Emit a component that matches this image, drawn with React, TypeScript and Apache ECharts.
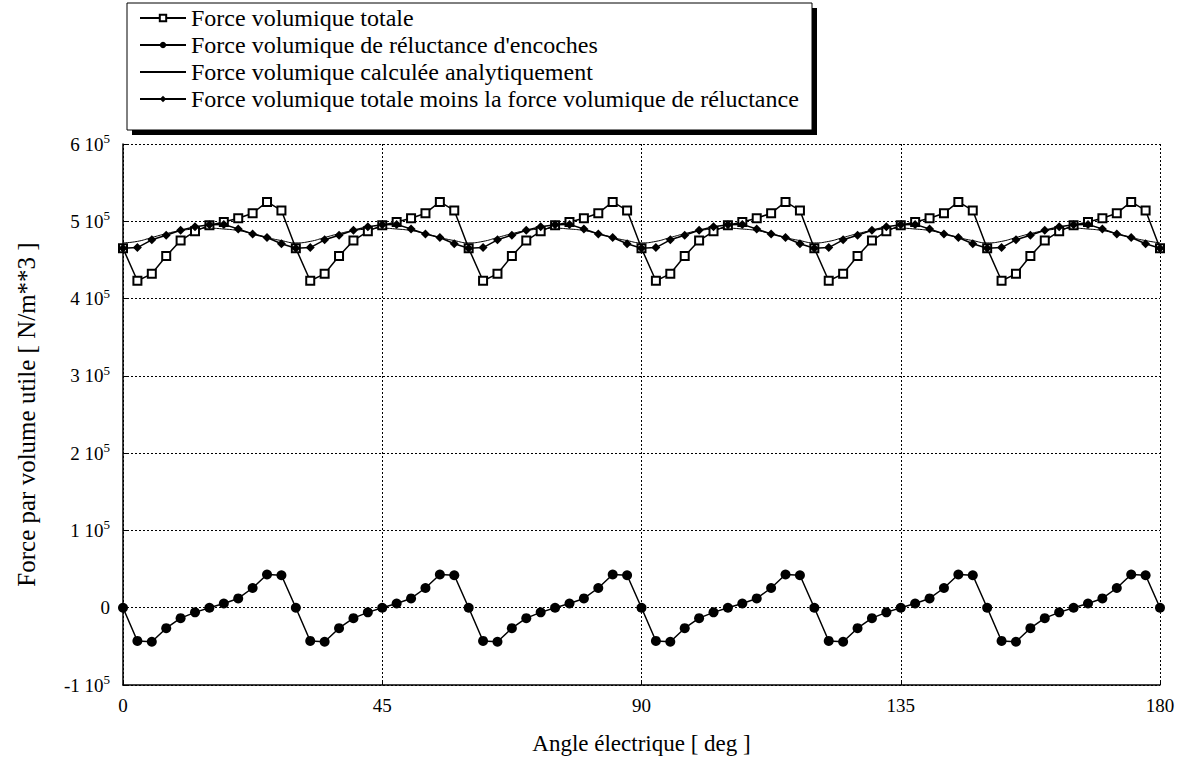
import React, { useEffect, useRef } from "react";
import * as echarts from "echarts";

// Electrical angle (deg)
const angles: number[] = [
  0, 2.5, 5, 7.5, 10, 12.5, 15, 17.5, 20, 22.5, 25, 27.5,
  30, 32.5, 35, 37.5, 40, 42.5, 45, 47.5, 50, 52.5, 55, 57.5,
  60, 62.5, 65, 67.5, 70, 72.5, 75, 77.5, 80, 82.5, 85, 87.5,
  90, 92.5, 95, 97.5, 100, 102.5, 105, 107.5, 110, 112.5, 115, 117.5,
  120, 122.5, 125, 127.5, 130, 132.5, 135, 137.5, 140, 142.5, 145, 147.5,
  150, 152.5, 155, 157.5, 160, 162.5, 165, 167.5, 170, 172.5, 175, 177.5,
  180,
];

// values in 10^3 N/m^3
const forceTotale: number[] = [
  465, 423, 432, 455, 475, 487, 495, 499, 504, 510.5, 525, 514,
  465, 423, 432, 455, 475, 487, 495, 499, 504, 510.5, 525, 514,
  465, 423, 432, 455, 475, 487, 495, 499, 504, 510.5, 525, 514,
  465, 423, 432, 455, 475, 487, 495, 499, 504, 510.5, 525, 514,
  465, 423, 432, 455, 475, 487, 495, 499, 504, 510.5, 525, 514,
  465, 423, 432, 455, 475, 487, 495, 499, 504, 510.5, 525, 514,
  465,
];

const forceReluctance: number[] = [
  0, -43, -44, -26.5, -13.5, -6, 0, 5.5, 12, 25.5, 43, 42,
  0, -43, -44, -26.5, -13.5, -6, 0, 5.5, 12, 25.5, 43, 42,
  0, -43, -44, -26.5, -13.5, -6, 0, 5.5, 12, 25.5, 43, 42,
  0, -43, -44, -26.5, -13.5, -6, 0, 5.5, 12, 25.5, 43, 42,
  0, -43, -44, -26.5, -13.5, -6, 0, 5.5, 12, 25.5, 43, 42,
  0, -43, -44, -26.5, -13.5, -6, 0, 5.5, 12, 25.5, 43, 42,
  0,
];

const forceAnalytique: number[] = [
  472, 474, 479, 484, 488, 490, 491, 490, 488, 484, 479, 475,
  472, 474, 479, 484, 488, 490, 491, 490, 488, 484, 479, 475,
  472, 474, 479, 484, 488, 490, 491, 490, 488, 484, 479, 475,
  472, 474, 479, 484, 488, 490, 491, 490, 488, 484, 479, 475,
  472, 474, 479, 484, 488, 490, 491, 490, 488, 484, 479, 475,
  472, 474, 479, 484, 488, 490, 491, 490, 488, 484, 479, 475,
  472,
];

const forceMoins: number[] = [
  465, 466, 476, 482, 488.5, 493, 495.5, 496, 490, 483.5, 479, 471,
  465, 466, 476, 482, 488.5, 493, 495.5, 496, 490, 483.5, 479, 471,
  465, 466, 476, 482, 488.5, 493, 495.5, 496, 490, 483.5, 479, 471,
  465, 466, 476, 482, 488.5, 493, 495.5, 496, 490, 483.5, 479, 471,
  465, 466, 476, 482, 488.5, 493, 495.5, 496, 490, 483.5, 479, 471,
  465, 466, 476, 482, 488.5, 493, 495.5, 496, 490, 483.5, 479, 471,
  465,
];

const seriesNames: string[] = [
  "Force volumique totale",
  "Force volumique de réluctance d'encoches",
  "Force volumique calculée analytiquement",
  "Force volumique totale moins la force volumique de réluctance",
];

const xTicks = { min: 0, max: 180, interval: 45 };
const yTicks = { min: -100, max: 600, interval: 100 };

const FONT = "'Liberation Serif', 'Times New Roman', serif";

export default function App() {
  const ref = useRef<HTMLDivElement>(null);
  useEffect(() => {
    if (!ref.current) return;
    const chart = echarts.init(ref.current, undefined, { renderer: "svg" });
    const pair = (vals: number[]) => angles.map((a, i) => [a, vals[i]]);
    const dotted = { color: "#000", width: 1, type: [2, 2] as number[] };
    chart.setOption({
      animation: false,
      backgroundColor: "#fff",
      textStyle: { fontFamily: FONT, color: "#000" },
      graphic: [
        { type: "rect", shape: { x: 132, y: 8, width: 685, height: 127 }, style: { fill: "#000" }, z: 0 },
        { type: "rect", shape: { x: 127, y: 3, width: 685, height: 127 }, style: { fill: "#fff", stroke: "#000", lineWidth: 1 }, z: 1 },
      ],
      legend: {
        orient: "vertical",
        left: 129,
        top: 3,
        padding: [3, 10, 20, 10],
        itemGap: 3,
        itemWidth: 46,
        itemHeight: 8,
        z: 10,
        data: [
          seriesNames[0],
          seriesNames[1],
          { name: seriesNames[2], itemStyle: { opacity: 0 } },
          seriesNames[3],
        ],
        textStyle: { fontFamily: FONT, fontSize: 24, color: "#000" },
      },
      grid: { left: 123, right: 22, top: 144, bottom: 74 },
      xAxis: {
        type: "value",
        ...xTicks,
        name: "Angle électrique [ deg ]",
        nameLocation: "middle",
        nameGap: 47,
        nameTextStyle: { fontFamily: FONT, fontSize: 23, color: "#000" },
        axisLine: { show: true, onZero: false, lineStyle: { color: "#000", width: 1.5 } },
        axisTick: { show: true, inside: true, length: 5, lineStyle: { color: "#000" } },
        axisLabel: { fontFamily: FONT, fontSize: 19, color: "#000", margin: 11 },
        splitLine: { show: true, lineStyle: dotted },
      },
      yAxis: {
        type: "value",
        ...yTicks,
        name: "Force par volume utile [ N/m**3 ]",
        nameLocation: "middle",
        nameGap: 84,
        nameTextStyle: { fontFamily: FONT, fontSize: 25, color: "#000" },
        axisLine: { show: true, lineStyle: { color: "#000", width: 1.5 } },
        axisTick: { show: true, inside: true, length: 6, lineStyle: { color: "#000" } },
        axisLabel: {
          margin: 13,
          formatter: (v: number) => (v === 0 ? "{m|0}" : `{m|${v / 100} 10}{s|5}`),
          rich: {
            m: { fontFamily: FONT, fontSize: 19, color: "#000", lineHeight: 24 },
            s: { fontFamily: FONT, fontSize: 13, color: "#000", verticalAlign: "top", lineHeight: 13 },
          },
        },
        splitLine: { show: true, lineStyle: dotted },
      },
      series: [
        {
          name: seriesNames[0],
          type: "line",
          data: pair(forceTotale),
          symbol: "emptyRect",
          symbolSize: 8,
          lineStyle: { color: "#000", width: 1.5 },
          itemStyle: { color: "#000", borderColor: "#000", borderWidth: 1.5 },
          z: 3,
        },
        {
          name: seriesNames[1],
          type: "line",
          data: pair(forceReluctance),
          symbol: "circle",
          symbolSize: 10,
          lineStyle: { color: "#000", width: 1.5 },
          itemStyle: { color: "#000" },
          z: 3,
        },
        {
          name: seriesNames[2],
          type: "line",
          data: pair(forceAnalytique),
          symbol: "none",
          smooth: true,
          lineStyle: { color: "#000", width: 1 },
          itemStyle: { color: "#000" },
          z: 2,
        },
        {
          name: seriesNames[3],
          type: "line",
          data: pair(forceMoins),
          symbol: "diamond",
          symbolSize: 9,
          lineStyle: { color: "#000", width: 1.5 },
          itemStyle: { color: "#000" },
          z: 4,
        },
      ],
    });
    return () => chart.dispose();
  }, []);
  return (
    <div
      ref={ref}
      style={{ position: "fixed", left: 0, top: 0, width: 1182, height: 760, background: "#fff" }}
    />
  );
}
